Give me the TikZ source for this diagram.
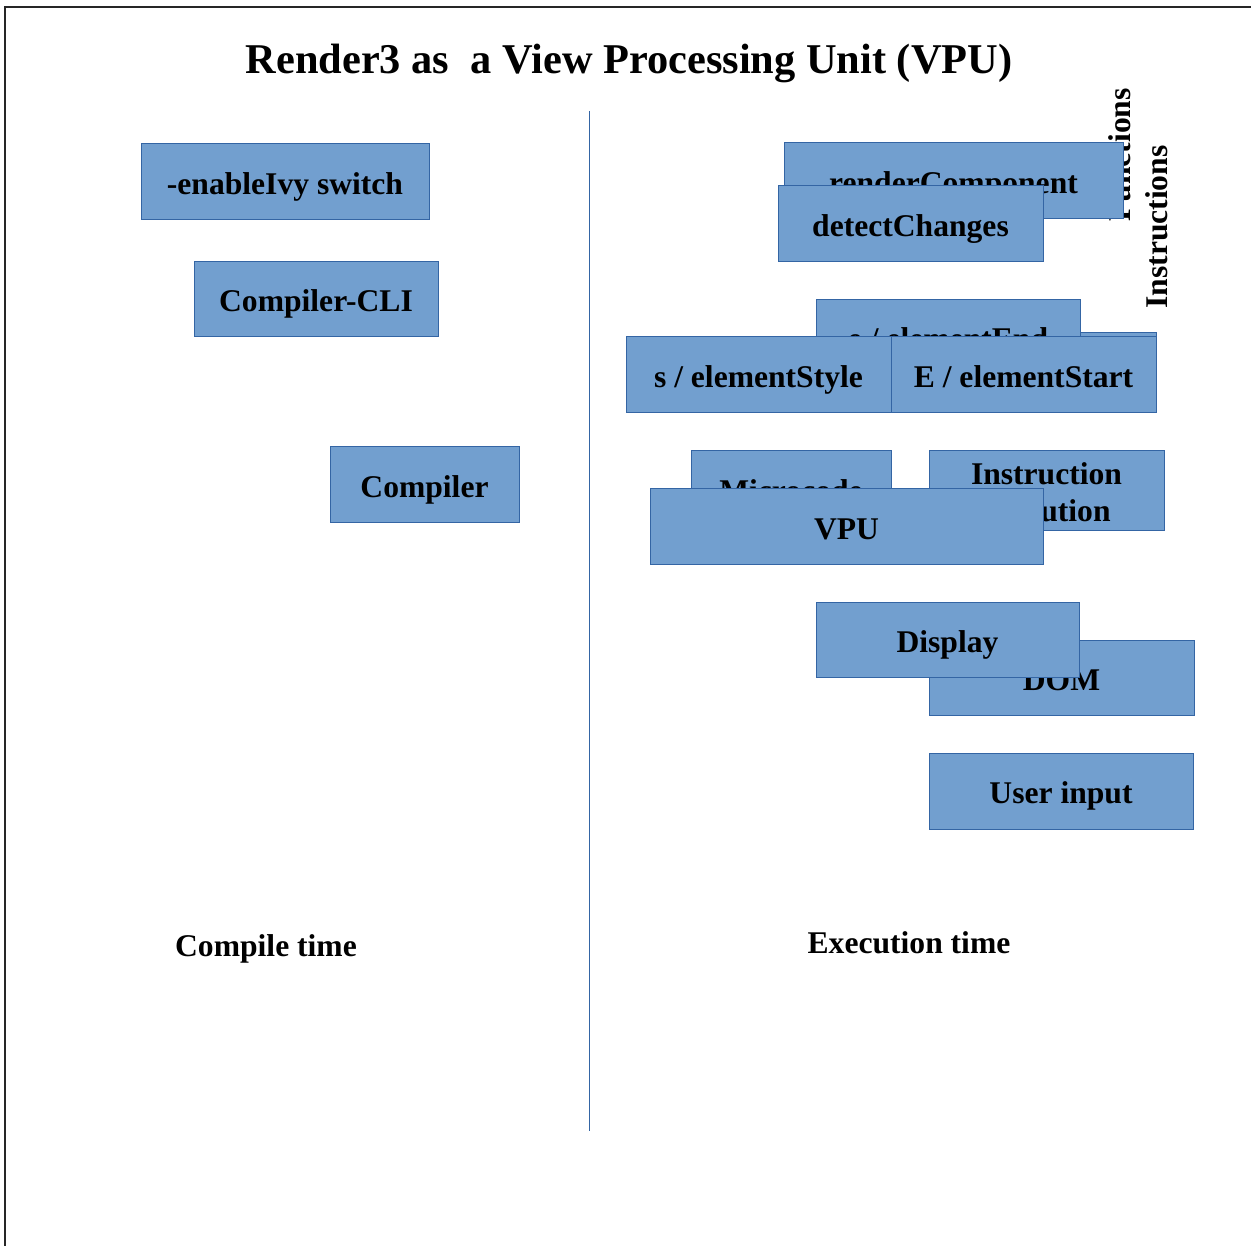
\documentclass[tikz,border=0pt]{standalone}
\usepackage{fontspec}
\setmainfont{Liberation Serif}
\definecolor{boxfill}{HTML}{729FCF}
\definecolor{boxline}{HTML}{3465A4}
\begin{document}
\begin{tikzpicture}[x=1pt,y=-1pt,
  box/.style={draw=boxline, fill=boxfill, line width=1pt, inner sep=0pt,
    font=\fontsize{31.6}{37}\selectfont\bfseries, align=center,
    text height=28.4pt, text depth=3.4pt},
  lbl/.style={inner sep=0pt, font=\fontsize{31.6}{37}\selectfont\bfseries},
  rot/.style={inner sep=0pt, rotate=90, font=\fontsize{31.6}{37}\selectfont\bfseries}]
\useasboundingbox (0,0) rectangle (1251,1246);
% frame
\draw[line width=1.3pt, black!85] (5,1246) coordinate (fbl) -- (5,7) coordinate (ftl) -- (1251,7) coordinate (ftr);
% title
\node[inner sep=0pt, anchor=base, font=\fontsize{42.4}{48}\selectfont\bfseries] (title) at (629,74) {Render3 as\ \ a View Processing Unit (VPU)};
% divider
\coordinate (dtop) at (589,111);
\coordinate (dbot) at (589,1131);
\draw[boxline, line width=0.9pt] (dtop) -- (dbot);
% compile side
\node[box, minimum width=288, minimum height=76] (enable) at (285,182) {-enableIvy switch};
\node[box, minimum width=244, minimum height=75] (cli) at (316,299.5) {Compiler-CLI};
\node[box, minimum width=189, minimum height=75] (compiler) at (424.5,484.5) {Compiler};
\node[lbl, anchor=base] (ctime) at (266,956) {Compile time};
% execution side
\node[rot] (functions) at (1120,155) {Functions};
\node[rot] (instructions) at (1157,227) {Instructions};
\node[box, minimum width=339, minimum height=76] (render) at (953.5,181) {renderComponent};
\node[box, minimum width=265, minimum height=76] (detect) at (910.5,224) {detectChanges};
\node[box, minimum width=296, minimum height=76] (hidden) at (1008,371) {};
\node[box, minimum width=264, minimum height=75] (end) at (948,337.5) {e / elementEnd};
\node[box, minimum width=265, minimum height=76] (style) at (758.5,375) {s / elementStyle};
\node[box, minimum width=265, minimum height=76] (start) at (1023.5,375) {E / elementStart};
\node[box, minimum width=200, minimum height=76] (micro) at (791,489) {Microcode};
\node[box, minimum width=235, minimum height=79, text height=65.4pt] (instr) at (1046.5,490.5) {Instruction\\execution};
\node[box, minimum width=393, minimum height=75] (vpu) at (846.5,526.5) {VPU};
\node[box, minimum width=265, minimum height=75] (dom) at (1061.5,677.5) {DOM};
\node[box, minimum width=263, minimum height=75] (display) at (947.5,639.5) {Display};
\node[box, minimum width=264, minimum height=76] (user) at (1061,791) {User input};
\node[lbl, anchor=base] (etime) at (909,953) {Execution time};
\end{tikzpicture}
\end{document}
